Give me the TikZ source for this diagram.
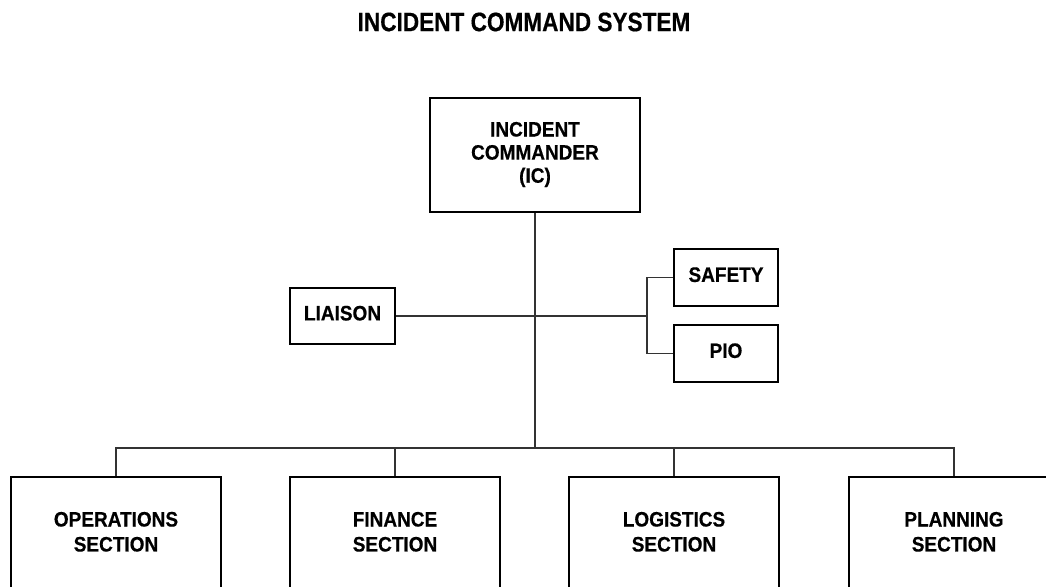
\documentclass[tikz,border=0pt]{standalone}
\usepackage{fontspec}
\setmainfont{Liberation Sans}[BoldFeatures={FakeBold=0.5}]
\usepackage{graphicx}
\tikzset{
  box/.style={draw=black, line width=1.6pt, inner sep=0pt, fill=white},
  bigbox/.style={box, minimum width=210pt, minimum height=114pt},
  smallbox/.style={box, minimum width=105pt, minimum height=56pt},
  conn/.style={draw=black!80, line width=1.3pt},
}
\newcommand{\boxtxt}[2]{\scalebox{1}[1.1]{\fontsize{19}{#1}\selectfont\bfseries\begin{tabular}{@{}c@{}}#2\end{tabular}}}
\begin{document}
\begin{tikzpicture}[x=1pt,y=-1pt]
\useasboundingbox (0,0) rectangle (1046,586);
\clip (0,0) rectangle (1046,586);
\fill[white] (0,0) rectangle (1046,586);

\node (title) at (524,22) {\scalebox{1}[1.18]{\fontsize{22.6}{26}\selectfont\bfseries INCIDENT COMMAND SYSTEM}};

\node[bigbox] (ic) at (535,155) {\boxtxt{21}{INCIDENT\\COMMANDER\\(IC)}};
\node[smallbox] (liaison) at (342.5,316) {\boxtxt{20}{LIAISON}};
\node[smallbox, minimum width=104pt, minimum height=57pt] (safety) at (726,277.5) {\boxtxt{20}{SAFETY}};
\node[smallbox, minimum width=104pt, minimum height=57pt] (pio) at (726,353.5) {\boxtxt{20}{PIO}};

\node[bigbox] (ops) at (116,534) {\boxtxt{22.7}{OPERATIONS\\SECTION}};
\node[bigbox] (fin) at (395,534) {\boxtxt{22.7}{FINANCE\\SECTION}};
\node[bigbox] (log) at (674,534) {\boxtxt{22.7}{LOGISTICS\\SECTION}};
\node[bigbox] (plan) at (954,534) {\boxtxt{22.7}{PLANNING\\SECTION}};

\coordinate (bus) at (535,448);
\coordinate (brk) at (647,316);

\draw[conn] (ic.south) -- (bus);
\draw[conn] (liaison.east) -- (brk);
\draw[conn] (safety.west) -| (brk) |- (pio.west);
\draw[conn] (ops.north) |- (bus) -| (plan.north);
\draw[conn] (fin.north) -- (fin.north |- bus);
\draw[conn] (log.north) -- (log.north |- bus);
\end{tikzpicture}
\end{document}
